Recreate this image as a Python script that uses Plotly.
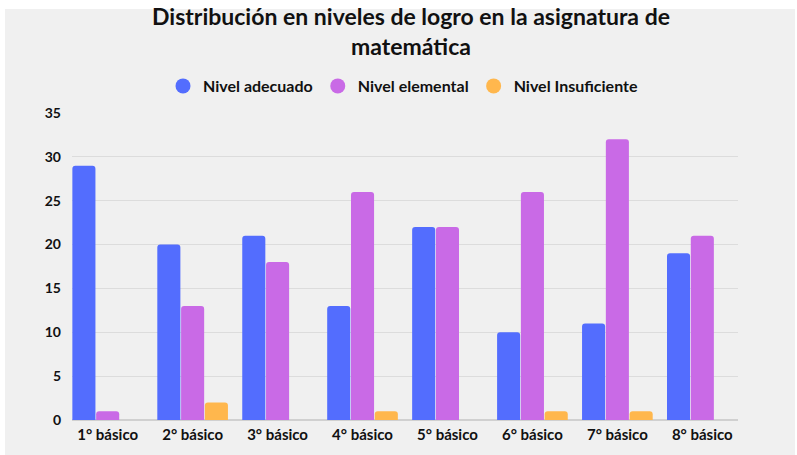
import plotly.graph_objects as go

categories = ["1° básico", "2° básico", "3° básico", "4° básico",
              "5° básico", "6° básico", "7° básico", "8° básico"]
adecuado = [29, 20, 21, 13, 22, 10, 11, 19]
elemental = [1, 13, 18, 26, 22, 26, 32, 21]
insuficiente = [0, 2, 0, 1, 0, 1, 1, 0]
y_ticks = [0, 5, 10, 15, 20, 25, 30, 35]

series = [
    ("Nivel adecuado", adecuado, "#536dfe"),
    ("Nivel elemental", elemental, "#c96ae6"),
    ("Nivel Insuficiente", insuficiente, "#ffb74d"),
]

fig = go.Figure()
for name, vals, color in series:
    fig.add_trace(go.Bar(
        x=categories, y=vals, name=name, showlegend=False,
        marker=dict(color=color, line=dict(width=0), cornerradius=3),
    ))
# legend entries with round markers
for name, vals, color in series:
    fig.add_trace(go.Scatter(
        x=[None], y=[None], mode="markers", name="<b>" + name + "</b>",
        marker=dict(color=color, size=15, symbol="circle"),
    ))

W, H = 797, 455
L, R, T, B = 72, 59, 113, 35
pw, ph = W - L - R, H - T - B

fig.update_layout(
    width=W, height=H,
    margin=dict(l=L, r=R, t=T, b=B, autoexpand=False),
    paper_bgcolor="white",
    plot_bgcolor="rgba(0,0,0,0)",
    barmode="group",
    bargap=0.16,
    bargroupgap=0.03,
    font=dict(family="Lato", color="#1a1a1a"),
    title=dict(
        text="<b>Distribución en niveles de logro en la asignatura de<br>matemática</b>",
        x=411 / W, xanchor="center",
        y=1 - 25 / H, yanchor="top", yref="container",
        font=dict(size=23, color="#111111", family="Lato"),
    ),
    legend=dict(
        orientation="h", x=(403 - L) / pw, xanchor="center",
        y=(H - B - 86) / ph, yanchor="middle",
        font=dict(size=16, color="#111111"),
        bgcolor="rgba(0,0,0,0)",
        traceorder="normal",
    ),
    xaxis=dict(
        range=[-0.42, 7.42], showgrid=False, showline=False,
        tickfont=dict(size=15, color="#111111"),
        ticks="", ticklabelstandoff=4,
        tickvals=categories,
        ticktext=["<b>" + c + "</b>" for c in categories],
    ),
    yaxis=dict(
        range=[0, 35], gridcolor="#dcdcdc", gridwidth=1,
        zeroline=True, zerolinecolor="#d0d0d0", zerolinewidth=1.5,
        tickfont=dict(size=14, color="#111111"),
        ticks="", ticklabelstandoff=10,
        tickvals=y_ticks,
        ticktext=["<b>%d</b>" % v for v in y_ticks],
    ),
    shapes=[dict(
        type="rect", xref="paper", yref="paper", layer="below",
        x0=(5 - L) / pw, x1=(795 - L) / pw,
        y0=(H - B - 455) / ph, y1=(H - B - 9) / ph,
        fillcolor="#f0f0f0", line=dict(width=0),
    )],
)

fig.write_html("out.html", config={"displayModeBar": False},
               post_script="document.body.style.margin='0';")
